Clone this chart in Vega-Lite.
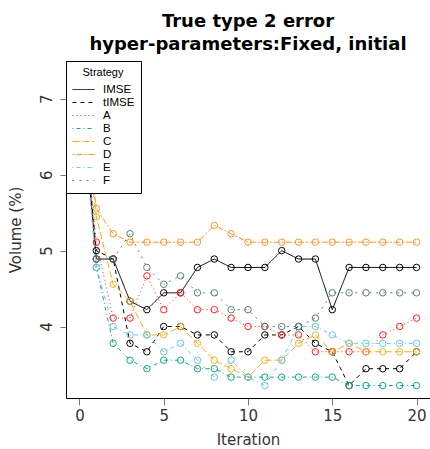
{
  "$schema": "https://vega.github.io/schema/vega-lite/v6.json",
  "autosize": "none",
  "width": 364,
  "height": 337,
  "padding": {"left": 66, "top": 61, "right": 0, "bottom": 51},
  "background": "white",
  "title": {
    "text": ["True type 2 error", "hyper-parameters:Fixed, initial"],
    "fontSize": 18,
    "font": "DejaVu Sans",
    "fontWeight": "bold",
    "anchor": "middle",
    "frame": "group",
    "offset": 7,
    "lineHeight": 23,
    "color": "black"
  },
  "data": {
    "values": [
      {"i": 0, "IMSE": 7.333, "tIMSE": 7.333, "A": 7.333, "B": 7.333, "C": 7.333, "D": 7.333, "E": 7.333, "F": 7.333},
      {"i": 1, "IMSE": 4.889, "tIMSE": 5.0, "A": 5.111, "B": 4.778, "C": 5.444, "D": 5.556, "E": 4.778, "F": 4.889},
      {"i": 2, "IMSE": 4.889, "tIMSE": 4.889, "A": 4.111, "B": 3.778, "C": 4.556, "D": 5.222, "E": 4.0, "F": 4.889},
      {"i": 3, "IMSE": 4.333, "tIMSE": 3.778, "A": 4.111, "B": 3.556, "C": 4.333, "D": 5.111, "E": 3.889, "F": 5.222},
      {"i": 4, "IMSE": 4.222, "tIMSE": 3.667, "A": 4.667, "B": 3.444, "C": 3.889, "D": 5.111, "E": 3.889, "F": 4.778},
      {"i": 5, "IMSE": 4.444, "tIMSE": 4.0, "A": 4.222, "B": 3.556, "C": 3.889, "D": 5.111, "E": 3.667, "F": 4.556},
      {"i": 6, "IMSE": 4.444, "tIMSE": 4.0, "A": 4.444, "B": 3.556, "C": 4.0, "D": 5.111, "E": 3.778, "F": 4.667},
      {"i": 7, "IMSE": 4.778, "tIMSE": 3.889, "A": 4.222, "B": 3.444, "C": 3.778, "D": 5.111, "E": 3.556, "F": 4.444},
      {"i": 8, "IMSE": 4.889, "tIMSE": 3.889, "A": 4.222, "B": 3.444, "C": 3.556, "D": 5.333, "E": 3.333, "F": 4.444},
      {"i": 9, "IMSE": 4.778, "tIMSE": 3.667, "A": 4.111, "B": 3.333, "C": 3.444, "D": 5.222, "E": 3.556, "F": 4.222},
      {"i": 10, "IMSE": 4.778, "tIMSE": 3.667, "A": 4.0, "B": 3.333, "C": 3.333, "D": 5.111, "E": 3.333, "F": 4.222},
      {"i": 11, "IMSE": 4.778, "tIMSE": 3.889, "A": 4.0, "B": 3.333, "C": 3.556, "D": 5.111, "E": 3.222, "F": 4.0},
      {"i": 12, "IMSE": 5.0, "tIMSE": 3.889, "A": 3.889, "B": 3.333, "C": 3.556, "D": 5.111, "E": 3.556, "F": 4.0},
      {"i": 13, "IMSE": 4.889, "tIMSE": 4.0, "A": 3.889, "B": 3.333, "C": 3.778, "D": 5.111, "E": 4.0, "F": 4.0},
      {"i": 14, "IMSE": 4.889, "tIMSE": 3.778, "A": 3.667, "B": 3.333, "C": 3.889, "D": 5.111, "E": 4.0, "F": 4.111},
      {"i": 15, "IMSE": 4.222, "tIMSE": 3.667, "A": 3.667, "B": 3.333, "C": 3.667, "D": 5.111, "E": 3.889, "F": 4.444},
      {"i": 16, "IMSE": 4.778, "tIMSE": 3.222, "A": 3.667, "B": 3.222, "C": 3.778, "D": 5.111, "E": 3.778, "F": 4.444},
      {"i": 17, "IMSE": 4.778, "tIMSE": 3.444, "A": 3.667, "B": 3.222, "C": 3.667, "D": 5.111, "E": 3.778, "F": 4.444},
      {"i": 18, "IMSE": 4.778, "tIMSE": 3.444, "A": 3.889, "B": 3.222, "C": 3.667, "D": 5.111, "E": 3.778, "F": 4.444},
      {"i": 19, "IMSE": 4.778, "tIMSE": 3.444, "A": 4.0, "B": 3.222, "C": 3.667, "D": 5.111, "E": 3.778, "F": 4.444},
      {"i": 20, "IMSE": 4.778, "tIMSE": 3.667, "A": 4.111, "B": 3.222, "C": 3.667, "D": 5.111, "E": 3.778, "F": 4.444}
    ]
  },
  "transform": [
    {"fold": ["IMSE", "tIMSE", "A", "B", "C", "D", "E", "F"], "as": ["Strategy", "v"]}
  ],
  "encoding": {
    "x": {
      "field": "i", "type": "quantitative",
      "scale": {"domain": [-0.8, 20.8], "nice": false, "zero": false},
      "axis": {"values": [0, 5, 10, 15, 20], "title": "Iteration", "grid": false,
        "domainColor": "black", "tickColor": "#777777", "tickSize": 7,
        "labelFontSize": 15, "labelPadding": 3, "labelColor": "#333333", "labelFont": "DejaVu Sans",
        "titleFontSize": 15, "titleFontWeight": "normal", "titleColor": "#333333", "titleFont": "DejaVu Sans", "titlePadding": 9}
    },
    "y": {
      "field": "v", "type": "quantitative",
      "scale": {"domain": [3.058, 7.498], "nice": false, "zero": false},
      "axis": {"values": [4, 5, 6, 7], "title": "Volume (%)", "grid": false,
        "domainColor": "black", "tickColor": "#777777", "tickSize": 6,
        "labelAngle": -90, "labelAlign": "center", "labelBaseline": "bottom",
        "labelFontSize": 15, "labelPadding": 6, "labelColor": "#333333", "labelFont": "DejaVu Sans",
        "titleFontSize": 15, "titleFontWeight": "normal", "titleColor": "#333333", "titleFont": "DejaVu Sans", "titlePadding": 16}
    },
    "color": {
      "field": "Strategy", "type": "nominal", "title": "Strategy",
      "scale": {
        "domain": ["IMSE", "tIMSE", "A", "B", "C", "D", "E", "F"],
        "range": ["#000000", "#000000", "#FF2020", "#17A589", "#EFB21F", "#FB9526", "#6CC5E3", "#5E7F73"]
      }
    }
  },
  "layer": [
    {
      "mark": {"type": "line", "strokeWidth": 1},
      "encoding": {
        "strokeDash": {
          "field": "Strategy", "type": "nominal", "title": "Strategy",
          "scale": {
            "domain": ["IMSE", "tIMSE", "A", "B", "C", "D", "E", "F"],
            "range": [[1, 0], [4, 4], [1, 3], [1, 3, 4, 3], [7, 3], [2, 2, 6, 2], [1, 3, 4, 3], [2, 5]]
          }
        }
      }
    },
    {
      "mark": {"type": "point", "shape": "circle", "filled": false, "size": 42, "strokeWidth": 1, "opacity": 1}
    }
  ],
  "config": {
    "view": {"stroke": null},
    "legend": {
      "orient": "top-left", "offset": 0,
      "fillColor": "white", "strokeColor": "black", "padding": 6,
      "titleFontSize": 11, "titleFont": "Liberation Sans", "titleFontWeight": "normal", "titleColor": "black", "titleAnchor": "middle", "titlePadding": 5,
      "labelFontSize": 11.5, "labelFont": "Liberation Sans", "labelColor": "black", "labelOffset": 8,
      "symbolType": "stroke", "symbolSize": 484, "symbolStrokeWidth": 1, "rowPadding": 0, "clipHeight": 13
    }
  }
}
